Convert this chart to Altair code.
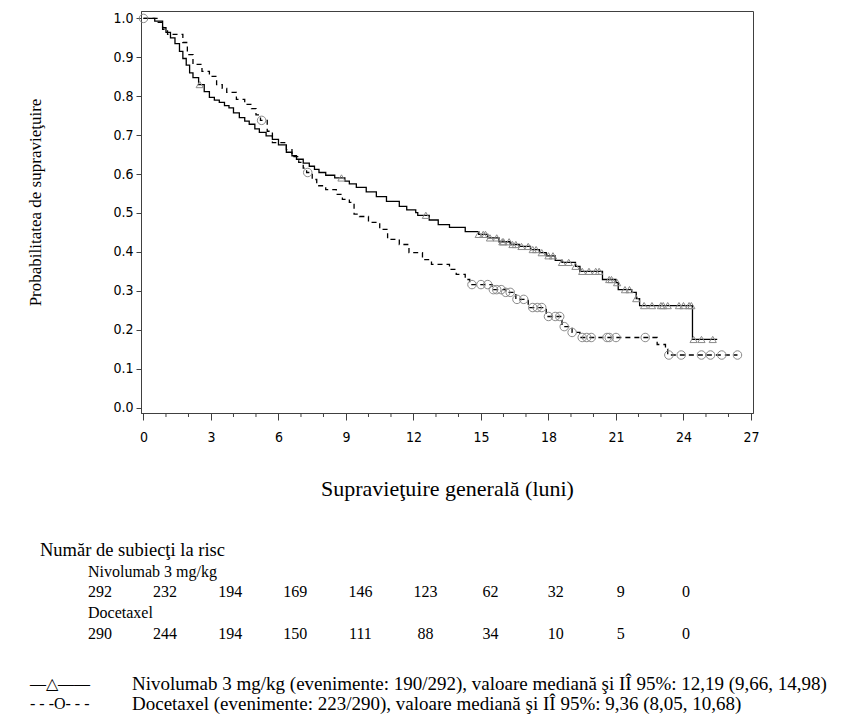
import altair as alt
import numpy as np
import pandas as pd

# Kaplan-Meier estimates: step times (months) and survival probability after each step
nivo_time = [0.0, 0.5, 0.85, 1.0, 1.2, 1.4, 1.6, 1.75, 1.9, 2.05, 2.2, 2.45, 2.7, 2.93,
             3.15, 3.37, 3.6, 3.8, 4.0, 4.26, 4.5, 4.7, 4.95, 5.15, 5.45, 5.73, 6.0,
             6.35, 6.6, 6.8, 7.1, 7.37, 7.6, 7.8, 8.1, 8.5, 8.95, 9.15, 9.46, 9.9,
             10.35, 10.8, 11.37, 11.7, 12.1, 12.19, 12.7, 13.1, 13.6, 14.3, 14.9,
             15.3, 15.8, 16.3, 16.7, 17.2, 17.6, 17.9, 18.3, 18.6, 19.2, 19.4, 20.4,
             21.0, 21.1, 21.7, 21.9, 22.05, 24.4, 25.5]
nivo_surv = [1.000, 0.993, 0.976, 0.964, 0.950, 0.935, 0.915, 0.897, 0.880, 0.860, 0.848,
             0.830, 0.812, 0.797, 0.790, 0.784, 0.776, 0.770, 0.757, 0.745, 0.736, 0.728,
             0.716, 0.707, 0.698, 0.689, 0.675, 0.656, 0.647, 0.638, 0.628, 0.620, 0.612,
             0.604, 0.597, 0.590, 0.582, 0.575, 0.566, 0.554, 0.542, 0.530, 0.517, 0.508,
             0.501, 0.494, 0.482, 0.470, 0.463, 0.452, 0.445, 0.436, 0.426, 0.419, 0.414,
             0.406, 0.398, 0.390, 0.378, 0.373, 0.363, 0.350, 0.329, 0.321, 0.303, 0.296,
             0.280, 0.262, 0.175, 0.175]

doce_time = [0.0, 0.6, 0.85, 1.07, 1.75, 1.95, 2.2, 2.6, 2.93, 3.25, 3.5, 3.7, 4.13, 4.5,
             4.8, 5.0, 5.2, 5.5, 5.73, 6.35, 6.6, 6.9, 7.1, 7.25, 7.5, 7.7, 8.1, 8.57,
             8.84, 9.15, 9.36, 9.6, 10.0, 10.5, 10.85, 11.37, 11.8, 12.4, 12.8, 13.6,
             13.9, 14.3, 14.5, 15.5, 16.1, 16.55, 17.1, 17.9, 18.6, 19.05, 19.4, 22.83,
             23.2, 23.3, 26.4]
doce_surv = [1.000, 0.990, 0.972, 0.959, 0.938, 0.907, 0.882, 0.864, 0.851, 0.830, 0.820,
             0.810, 0.792, 0.779, 0.768, 0.752, 0.738, 0.710, 0.681, 0.663, 0.645, 0.630,
             0.615, 0.604, 0.586, 0.570, 0.560, 0.548, 0.535, 0.527, 0.497, 0.491, 0.476,
             0.458, 0.432, 0.419, 0.398, 0.380, 0.368, 0.355, 0.342, 0.329, 0.316, 0.303,
             0.296, 0.278, 0.257, 0.234, 0.208, 0.193, 0.180, 0.162, 0.150, 0.135, 0.135]

# Censoring times (months)
nivo_censor = [2.5, 8.8, 12.55, 14.9, 15.1, 15.2, 15.4, 15.7, 15.95, 16.0, 16.25, 16.4,
               16.55, 16.8, 17.1, 17.3, 17.45, 17.7, 18.0, 18.2, 18.6, 18.9, 19.2, 19.5,
               19.8, 20.1, 20.25, 20.7, 20.8, 21.05, 21.4, 21.6, 21.9, 22.25, 22.6, 23.0,
               23.1, 23.3, 23.8, 24.0, 24.25, 24.35, 24.45, 24.8, 25.3]
doce_censor = [0.0, 5.25, 7.3, 14.6, 15.0, 15.3, 15.55, 15.7, 15.9, 16.1, 16.3, 16.6,
               16.9, 17.3, 17.5, 17.7, 18.0, 18.3, 18.5, 18.7, 19.05, 19.5, 19.7, 19.9,
               20.6, 20.7, 21.0, 22.3, 23.35, 23.9, 24.8, 25.2, 25.7, 26.4]

# Number at risk table
risk_times = [0, 3, 6, 9, 12, 15, 18, 21, 24, 27]
nivo_risk = [292, 232, 194, 169, 146, 123, 62, 32, 9, 0]
doce_risk = [290, 244, 194, 150, 111, 88, 34, 10, 5, 0]

arms = ["Nivolumab 3 mg/kg", "Docetaxel"]
legend_lines = [
    "Nivolumab 3 mg/kg (evenimente: 190/292), valoare mediană şi IÎ 95%: 12,19 (9,66, 14,98)",
    "Docetaxel (evenimente: 223/290), valoare mediană şi IÎ 95%: 9,36 (8,05, 10,68)",
]
legend_symbols = ["—△——", "- - -O- - -"]

# ---- layout constants (pixels) ----
W, H = 612, 402
PAD = {"left": 141, "top": 11, "right": 101, "bottom": 305}
SERIF = "Liberation Serif, Times New Roman, serif"
NARROW = "Liberation Sans Narrow, DejaVu Sans Condensed, Arial Narrow, sans-serif"


def step_value(times, survs, t):
    i = np.searchsorted(np.array(times), t, side="right") - 1
    return survs[max(i, 0)]


curves = pd.concat([
    pd.DataFrame({"arm": arms[0], "t": nivo_time, "s": nivo_surv}),
    pd.DataFrame({"arm": arms[1], "t": doce_time, "s": doce_surv}),
])
censors = pd.concat([
    pd.DataFrame({"arm": arms[0], "t": nivo_censor,
                  "s": [step_value(nivo_time, nivo_surv, c) for c in nivo_censor]}),
    pd.DataFrame({"arm": arms[1], "t": doce_censor,
                  "s": [step_value(doce_time, doce_surv, c) for c in doce_censor]}),
])
minor = pd.DataFrame({"m": [m for m in range(28) if m % 3]})

x_scale = alt.Scale(domain=[-0.11, 27.09], nice=False, zero=False)
y_scale = alt.Scale(domain=[-0.014, 1.019], nice=False, zero=False)

x_enc = alt.X("t:Q", scale=x_scale,
              axis=alt.Axis(values=risk_times, title="Supravieţuire generală (luni)",
                            tickSize=7, labelPadding=10, titlePadding=34,
                            titleFontSize=22))
y_enc = alt.Y("s:Q", scale=y_scale,
              axis=alt.Axis(values=[round(v * 0.1, 1) for v in range(11)], format=".1f",
                            title="Probabilitatea de supravieţuire", tickSize=5,
                            labelPadding=3, titlePadding=68, titleFontSize=17,
                            titleY=191))

lines = alt.Chart(curves).mark_line(interpolate="step-after", color="black",
                                    strokeWidth=1.3).encode(
    x=x_enc, y=y_enc,
    strokeDash=alt.StrokeDash("arm:N", scale=alt.Scale(domain=arms, range=[[1, 0], [5, 4]]),
                              legend=None),
    detail="arm:N",
)

marks = alt.Chart(censors).mark_point(filled=False, color="#8a8a8a", strokeWidth=1,
                                      opacity=1).encode(
    x="t:Q", y="s:Q",
    shape=alt.Shape("arm:N", scale=alt.Scale(domain=arms, range=["triangle-up", "circle"]),
                    legend=None),
    size=alt.Size("arm:N", scale=alt.Scale(domain=arms, range=[52, 72]), legend=None),
)

minor_ticks = alt.Chart(minor).mark_rule(color="#404040", strokeWidth=1).encode(
    x=alt.X("m:Q"), y=alt.value(H), y2=alt.value(H + 4)
)

km = alt.layer(lines, marks, minor_ticks)

# ---- number-at-risk table and legend, positioned in pixels around the plot ----
rows = []
for r, (name, counts) in enumerate([(arms[0], nivo_risk), (arms[1], doce_risk)]):
    rows.append({"text": name, "row": 2 * r + 1, "col": -1, "kind": "head"})
    for c, n in enumerate(counts):
        rows.append({"text": str(n), "row": 2 * r + 2, "col": c, "kind": "num"})
table = pd.DataFrame(rows)

title_df = pd.DataFrame({"text": ["Număr de subiecţi la risc"]})
legend_df = pd.DataFrame({"sym": legend_symbols, "text": legend_lines, "row": [0, 1]})

txt = dict(font=SERIF, color="black", baseline="middle")

risk_title = alt.Chart(title_df).mark_text(align="left", fontSize=18.5, **txt).encode(
    x=alt.value(-101), y=alt.value(539), text="text:N")

heads = alt.Chart(table).transform_filter("datum.kind == 'head'").transform_calculate(
    py="540 + 20.7 * datum.row"
).mark_text(align="left", fontSize=16, **txt).encode(
    x=alt.value(-53), y=alt.Y("py:Q", scale=None, axis=None), text="text:N")

nums = alt.Chart(table).transform_filter("datum.kind == 'num'").transform_calculate(
    px="-41 + 65.1 * datum.col", py="540 + 20.7 * datum.row"
).mark_text(align="center", fontSize=16, **txt).encode(
    x=alt.X("px:Q", scale=None, axis=None), y=alt.Y("py:Q", scale=None, axis=None),
    text="text:N")

leg_sym = alt.Chart(legend_df).transform_calculate(py="673 + 20 * datum.row").mark_text(
    align="left", fontSize=16, **txt).encode(
    x=alt.value(-111), y=alt.Y("py:Q", scale=None, axis=None), text="sym:N")

leg_txt = alt.Chart(legend_df).transform_calculate(py="673 + 20 * datum.row").mark_text(
    align="left", fontSize=19, **txt).encode(
    x=alt.value(-9), y=alt.Y("py:Q", scale=None, axis=None), text="text:N")

chart = alt.layer(km, risk_title, heads, nums, leg_sym, leg_txt).resolve_scale(
    x="independent", y="independent"
).properties(
    width=W, height=H,
    autosize=alt.AutoSizeParams(type="none"),
    padding=PAD,
).configure_axis(
    grid=False,
    domainColor="#404040", tickColor="#404040",
    labelColor="black", labelFont=NARROW, labelFontSize=14,
    titleFont=SERIF, titleFontWeight="normal", titleColor="black",
).configure_view(stroke="#404040", strokeWidth=1)

chart.save("out.html", embed_options={"renderer": "svg", "actions": False})
